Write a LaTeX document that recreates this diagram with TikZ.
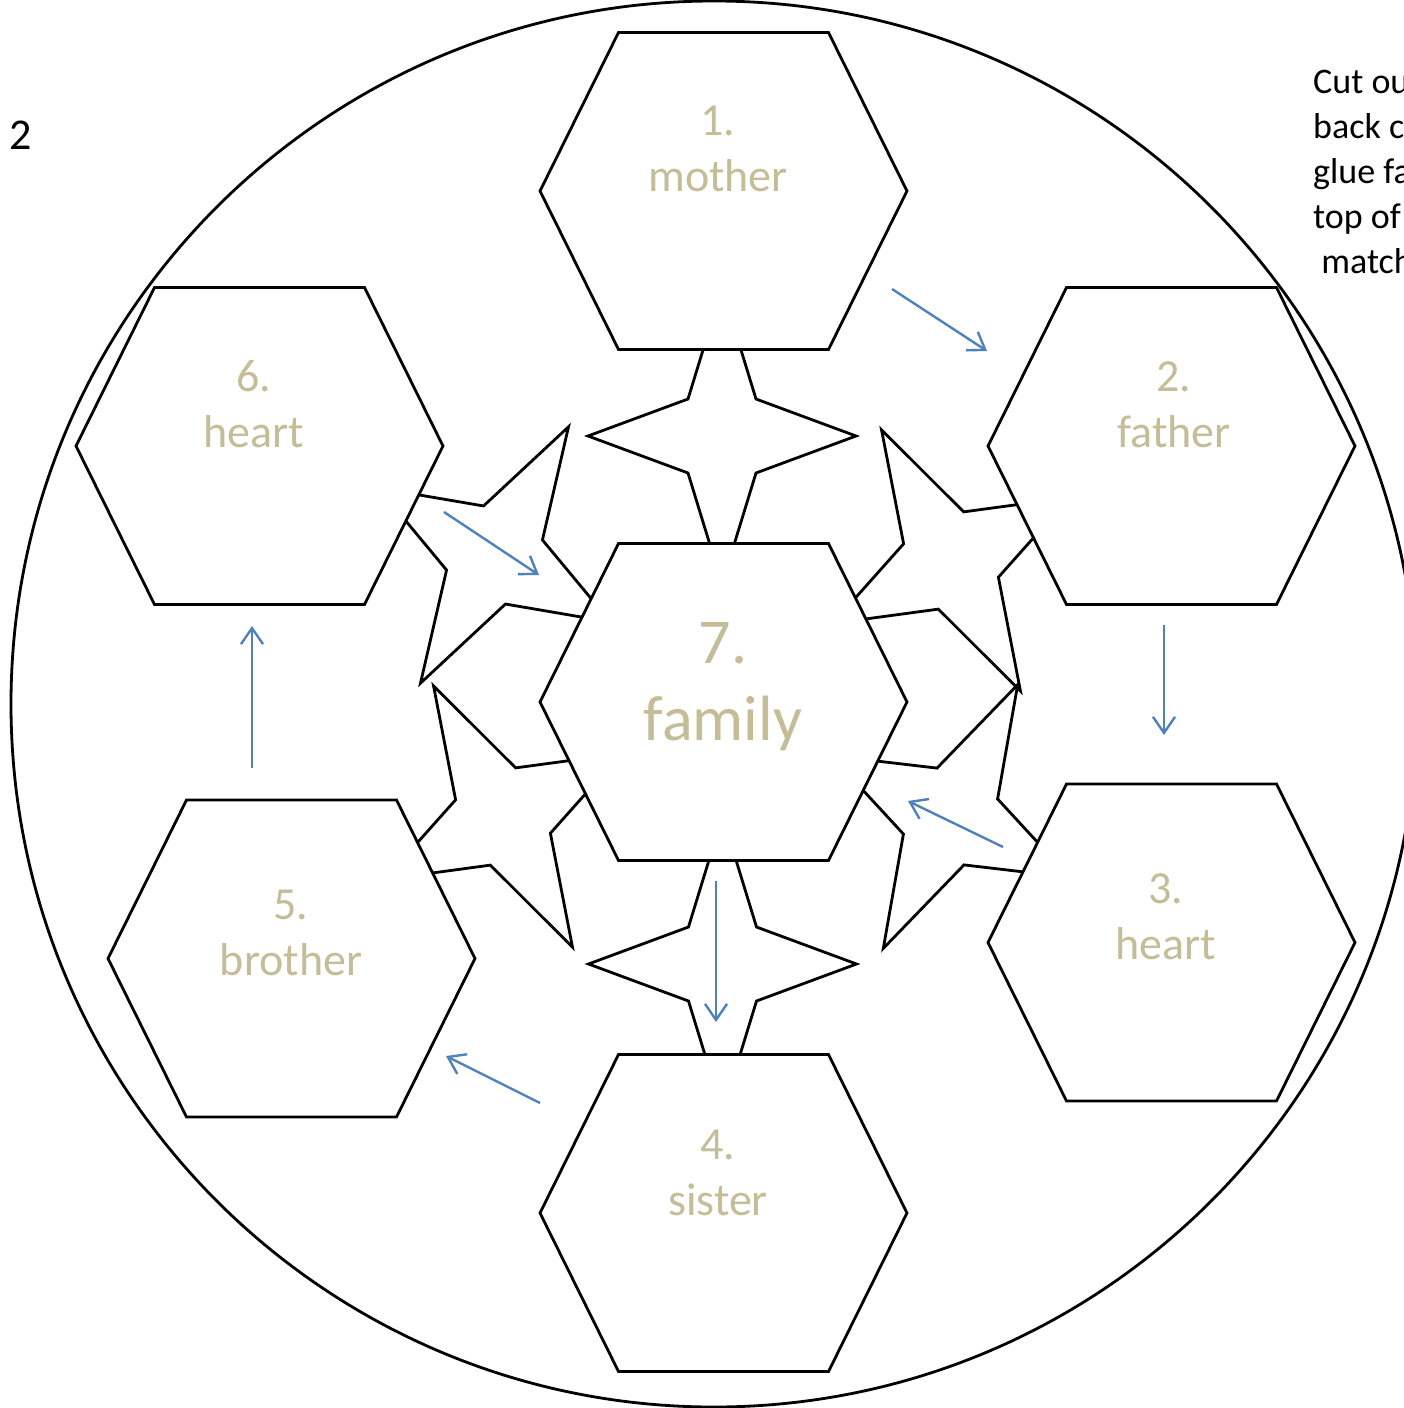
\documentclass[tikz,border=0pt]{standalone}
\usepackage{fontspec}
\setmainfont{Carlito}
\usetikzlibrary{positioning, arrows.meta}
\definecolor{wordtan}{HTML}{C4BD97}
\definecolor{flowblue}{HTML}{4F81BD}
\tikzset{
	>={Straight Barb[length=16pt,width=22pt]},
	cell/.style={minimum width=367pt, minimum height=317pt, inner sep=0pt, outer sep=0pt},
	cellline/.style={draw, fill=white, line width=2.8pt},
	tag/.style={text=wordtan, align=center, anchor=base,
		font=\fontsize{46}{56}\selectfont},
	bigtag/.style={tag, font=\fontsize{64}{77}\selectfont},
	note/.style={align=left, inner sep=0pt, font=\fontsize{36}{45}\selectfont},
	flow/.style={->, draw=flowblue, line width=2.4pt},
	spark/.pic={\draw[line width=2.8pt, fill=white]
		(0,148) -- (34,37) -- (134,0) -- (34,-37) -- (0,-148)
		-- (-34,-37) -- (-134,0) -- (-34,37) -- cycle;}
}

\begin{document}
\begin{tikzpicture}[x=1pt, y=-1pt]
	\useasboundingbox (0,0) rectangle (1404,1408);
	\node[circle, draw, line width=2.8pt, minimum size=1406pt, inner sep=0pt] (ring) at (714,704) {};
	
	% stars behind the cells
	\pic at (722,436) {spark};
	\pic at (722.5,964) {spark};
	\pic[rotate=-30] at (494.5,555) {spark};
	\pic[rotate=28] at (951,560.5) {spark};
	\pic[rotate=28] at (503,816.5) {spark};
	\pic[rotate=-27] at (950.5,816.5) {spark};
	
	\node[cell] (c7) at (723.5,702) {};
	\node[cell, above=194pt of c7] (c1) {};
	\node[cell, below=194pt of c7] (c4) {};
	\node[cell] (c2) at (1171.5,446) {};
	\node[cell] (c3) at (1171.5,942.5) {};
	\node[cell] (c5) at (291.5,958.5) {};
	\node[cell] (c6) at (259.5,446) {};
	
	% hexagon outlines
	\foreach \c in {c1,c2,c3,c4,c5,c6,c7}
		\filldraw[cellline] (\c.west) -- ([xshift=78.5pt]\c.north west)
		-- ([xshift=-78.5pt]\c.north east) -- (\c.east)
		-- ([xshift=-78.5pt]\c.south east) -- ([xshift=78.5pt]\c.south west) -- cycle;
	
	\node[tag] (t1) at (718,191) {1.\\mother};
	\node[tag] (t2) at (1174,447) {2.\\father};
	\node[tag] (t3) at (1166,959) {3.\\heart};
	\node[tag] (t4) at (718,1215) {4.\\sister};
	\node[tag] (t5) at (291,975) {5.\\brother};
	\node[tag] (t6) at (254,447) {6.\\heart};
	\node[bigtag] (t7) at (723,740) {7.\\family};
	
	\node[note, anchor=base, font=\fontsize{44}{53}\selectfont] (page) at (21,149) {2};
	\node[note, anchor=base west] (hint) at (1313,273) {Cut ou\\back c\\glue fa\\top of\\\ match};
	
	\coordinate (a1) at (892,289);
	\coordinate (b1) at (987,351);
	\coordinate (a2) at (1164,625);
	\coordinate (b2) at (1164,735);
	\coordinate (a3) at (1003,847);
	\coordinate (b3) at (908,801);
	\coordinate (a4) at (716,881);
	\coordinate (b4) at (716,1022);
	\coordinate (a5) at (540,1103);
	\coordinate (b5) at (446,1056);
	\coordinate (a6) at (252,768);
	\coordinate (b6) at (252,626);
	\coordinate (a7) at (444,512);
	\coordinate (b7) at (539,575);
	\draw[flow] (a1) -- (b1);
	\draw[flow] (a2) -- (b2);
	\draw[flow] (a3) -- (b3);
	\draw[flow] (a4) -- (b4);
	\draw[flow] (a5) -- (b5);
	\draw[flow] (a6) -- (b6);
	\draw[flow] (a7) -- (b7);
\end{tikzpicture}
\end{document}
